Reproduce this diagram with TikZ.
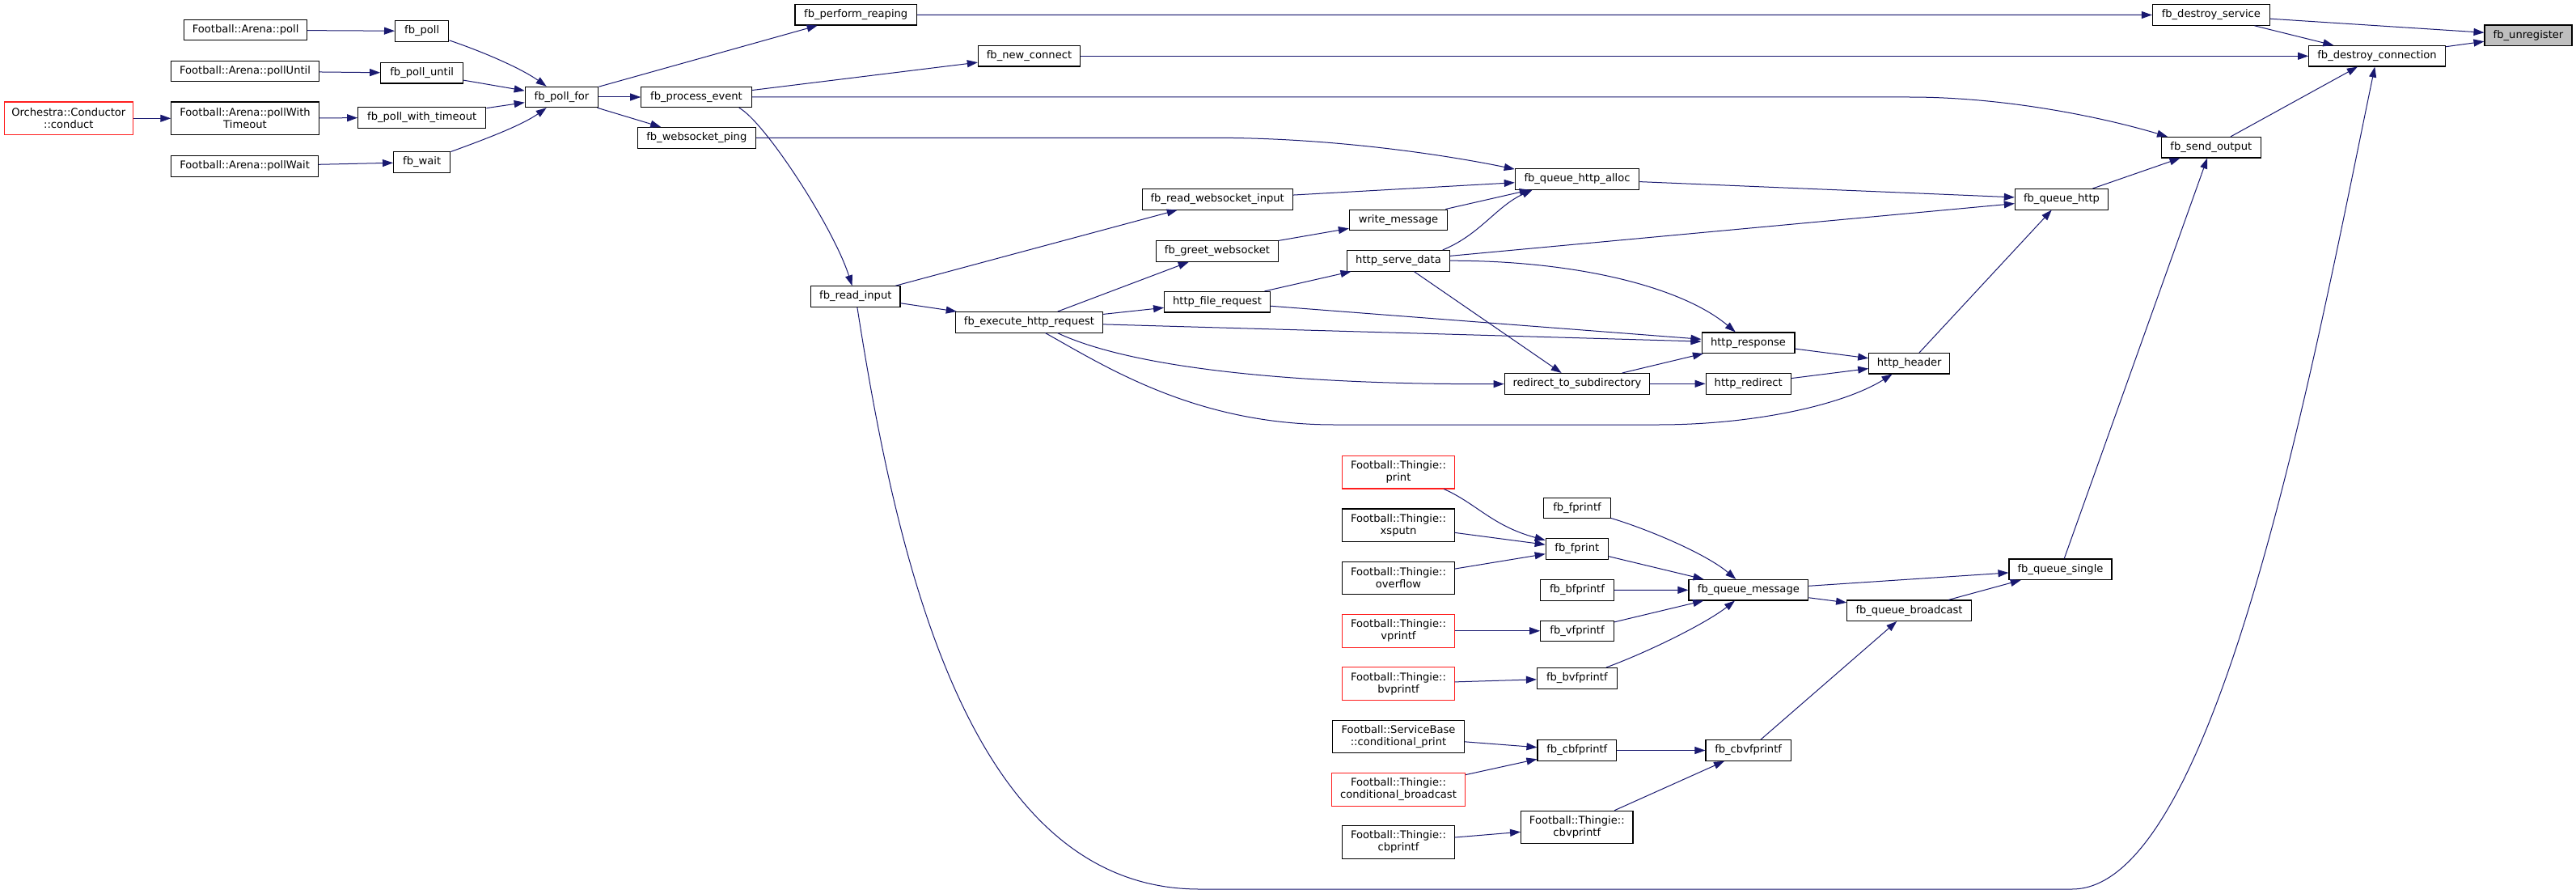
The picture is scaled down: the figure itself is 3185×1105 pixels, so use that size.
\documentclass[tikz,border=0pt]{standalone}
\usepackage{fontspec}
\setmainfont{DejaVu Sans}
\usetikzlibrary{arrows.meta}
\definecolor{edgeblue}{RGB}{25,25,112}
\definecolor{redborder}{RGB}{255,30,30}
\definecolor{unregfill}{RGB}{191,191,191}
\begin{document}
\begin{tikzpicture}[x=1pt,y=-1pt,
 box/.style={draw=black, line width=1.1pt, fill=white, inner sep=0pt, minimum height=25.5pt, font=\fontsize{13.1}{15}\selectfont, align=center},
 tall/.style={box, minimum height=40.5pt},
 redbox/.style={tall, draw=redborder},
 conn/.style={draw=edgeblue, line width=1pt, -{Triangle[length=13pt,width=9pt]}}
]
\fill[white] (0,0) rectangle (3185,1105);
\useasboundingbox (0,0) rectangle (3185,1105);

\node[box,minimum width=152pt] (apoll) at (303.6,37.2) {Football::Arena::poll};
\node[box,minimum width=66.3pt] (fbpoll) at (521.7,38.4) {fb\_poll};
\node[box,minimum width=182.4pt] (apolluntil) at (303,88) {Football::Arena::pollUntil};
\node[box,minimum width=102pt] (fbpolluntil) at (521.7,90.3) {fb\_poll\_until};
\node[redbox,minimum width=159.4pt] (orch) at (84.8,146.3) {Orchestra::Conductor\\::conduct};
\node[tall,minimum width=182.4pt] (apollwt) at (303,146.3) {Football::Arena::pollWith\\Timeout};
\node[box,minimum width=158.2pt] (fbpollwt) at (521.7,145.3) {fb\_poll\_with\_timeout};
\node[box,minimum width=181.8pt] (apollwait) at (302.6,205.3) {Football::Arena::pollWait};
\node[box,minimum width=70.2pt] (fbwait) at (521.7,200.5) {fb\_wait};
\node[box,minimum width=90.6pt] (fbpollfor) at (694.5,120) {fb\_poll\_for};
\node[box,minimum width=136.5pt] (fbprocev) at (861,120) {fb\_process\_event};
\node[box,minimum width=146pt] (fbwsping) at (861.3,170.3) {fb\_websocket\_ping};
\node[box,minimum width=150.5pt] (fbreaping) at (1058.2,18.3) {fb\_perform\_reaping};
\node[box,minimum width=126.3pt] (fbnewconn) at (1272.5,69.3) {fb\_new\_connect};
\node[box,minimum width=144.8pt] (fbdestserv) at (2733.8,18.5) {fb\_destroy\_service};
\node[box,minimum width=108pt,fill=unregfill] (fbunreg) at (3126,43.8) {fb\_unregister};
\node[box,minimum width=168.6pt] (fbdestconn) at (2939,69.3) {fb\_destroy\_connection};
\node[box,minimum width=122.5pt] (fbsendout) at (2733.8,182.2) {fb\_send\_output};
\node[box,minimum width=153.4pt] (fbqha) at (1950,221.4) {fb\_queue\_http\_alloc};
\node[box,minimum width=115.3pt] (fbqhttp) at (2549,246.3) {fb\_queue\_http};
\node[box,minimum width=186.2pt] (fbreadws) at (1505.2,246.3) {fb\_read\_websocket\_input};
\node[box,minimum width=121.2pt] (writemsg) at (1729,271.8) {write\_message};
\node[box,minimum width=151.2pt] (fbgreet) at (1505,310.5) {fb\_greet\_websocket};
\node[box,minimum width=126.2pt] (httpserve) at (1729,322.3) {http\_serve\_data};
\node[box,minimum width=110.3pt] (fbreadin) at (1057.8,366.5) {fb\_read\_input};
\node[box,minimum width=130.8pt] (httpfile) at (1505,373.2) {http\_file\_request};
\node[box,minimum width=182.3pt] (fbexec) at (1272.5,398.3) {fb\_execute\_http\_request};
\node[box,minimum width=114.9pt] (httpresp) at (2161.5,423.7) {http\_response};
\node[box,minimum width=100pt] (httphead) at (2360.7,449.2) {http\_header};
\node[box,minimum width=179.6pt] (redirsub) at (1950,474.3) {redirect\_to\_subdirectory};
\node[box,minimum width=105.1pt] (httpredir) at (2161.7,474.3) {http\_redirect};
\node[redbox,minimum width=139.4pt] (tprint) at (1729,583.7) {Football::Thingie::\\print};
\node[box,minimum width=82.3pt] (fbfprintf) at (1950,627.8) {fb\_fprintf};
\node[tall,minimum width=138.3pt] (txsputn) at (1729,649.2) {Football::Thingie::\\xsputn};
\node[box,minimum width=77.2pt] (fbfprint) at (1949.8,678.3) {fb\_fprint};
\node[tall,minimum width=138.3pt] (toverflow) at (1729,714.5) {Football::Thingie::\\overflow};
\node[box,minimum width=90.6pt] (fbbfprintf) at (1950,729.5) {fb\_bfprintf};
\node[box,minimum width=147.9pt] (fbqmsg) at (2161.9,729.2) {fb\_queue\_message};
\node[box,minimum width=127pt] (fbqsingle) at (2547.5,703.7) {fb\_queue\_single};
\node[box,minimum width=153.7pt] (fbqbcast) at (2360.5,754.7) {fb\_queue\_broadcast};
\node[redbox,minimum width=138.3pt] (tvprintf) at (1729,779.8) {Football::Thingie::\\vprintf};
\node[box,minimum width=90.6pt] (fbvfprintf) at (1950,779.8) {fb\_vfprintf};
\node[redbox,minimum width=138.3pt] (tbvprintf) at (1729,845) {Football::Thingie::\\bvprintf};
\node[box,minimum width=98.8pt] (fbbvfprintf) at (1949.8,838.3) {fb\_bvfprintf};
\node[tall,minimum width=162.7pt] (tservbase) at (1729,910.5) {Football::ServiceBase\\::conditional\_print};
\node[box,minimum width=97.6pt] (fbcbfprintf) at (1949.8,927.5) {fb\_cbfprintf};
\node[box,minimum width=105.2pt] (fbcbvfprintf) at (2161.6,927.5) {fb\_cbvfprintf};
\node[redbox,minimum width=165.1pt] (tcondbc) at (1729,975.8) {Football::Thingie::\\conditional\_broadcast};
\node[tall,minimum width=138.4pt] (tcbvprintf) at (1949.8,1022.5) {Football::Thingie::\\cbvprintf};
\node[tall,minimum width=138.3pt] (tcbprintf) at (1729,1040.8) {Football::Thingie::\\cbprintf};

% left part
\draw[conn] (apoll) -- (fbpoll);
\draw[conn] (apolluntil) -- (fbpolluntil);
\draw[conn] (orch) -- (apollwt);
\draw[conn] (apollwt) -- (fbpollwt);
\draw[conn] (apollwait) -- (fbwait);
\draw[conn] (fbpoll) .. controls (600,65) and (645,85) .. (fbpollfor);
\draw[conn] (fbpolluntil) -- (fbpollfor);
\draw[conn] (fbpollwt) -- (fbpollfor);
\draw[conn] (fbwait) .. controls (600,172) and (645,155) .. (fbpollfor);
\draw[conn] (fbpollfor) -- (fbreaping);
\draw[conn] (fbpollfor) -- (fbprocev);
\draw[conn] (fbpollfor) -- (fbwsping);
% top
\draw[conn] (fbreaping) -- (fbdestserv);
\draw[conn] (fbdestserv) -- (fbunreg);
\draw[conn] (fbdestserv) -- (fbdestconn);
\draw[conn] (fbdestconn) -- (fbunreg);
\draw[conn] (fbprocev) -- (fbnewconn);
\draw[conn] (fbnewconn) -- (fbdestconn);
\draw[conn] (fbprocev) -- (2361,120) .. controls (2480,120) and (2600,145) .. ([xshift=8pt]fbsendout.north west);
\draw[conn] ([xshift=-16pt]fbprocev.south east) .. controls (945,150) and (1030,280) .. (fbreadin);
\draw[conn] (fbwsping) -- (1500,170.3) .. controls (1650,170.3) and (1790,192) .. ([yshift=-1pt]fbqha.north west);
% middle
\draw[conn] (fbreadin) -- (fbreadws);
\draw[conn] (fbreadin) -- (fbexec);
\draw[conn] (fbreadin) .. controls (1110,700) and (1200,1099) .. (1483,1099) -- (2562,1099) .. controls (2740,1099) and (2860,450) .. (fbdestconn);
\draw[conn] (fbreadws) -- (fbqha);
\draw[conn] (writemsg) -- (fbqha);
\draw[conn] ([xshift=-9pt]httpserve.north east) .. controls (1830,290) and (1850,255) .. ([xshift=22pt]fbqha.south west);
\draw[conn] (fbqha) -- (fbqhttp);
\draw[conn] (fbqhttp) -- (fbsendout);
\draw[conn] (fbsendout) -- (fbdestconn);
\draw[conn] (fbexec) -- (fbgreet);
\draw[conn] (fbgreet) -- (writemsg);
\draw[conn] (fbexec) -- (httpfile);
\draw[conn] (httpfile) -- (httpserve);
\draw[conn] (httpserve) -- (fbqhttp);
\draw[conn] (httpserve) .. controls (1950,322) and (2080,355) .. (httpresp);
\draw[conn] (httpserve) -- (redirsub);
\draw[conn] (httpfile) -- (httpresp);
\draw[conn] (fbexec) -- (httpresp);
\draw[conn] ([xshift=35pt]fbexec.south) .. controls (1400,455) and (1600,475.5) .. (redirsub);
\draw[conn] ([xshift=20pt]fbexec.south) .. controls (1370,455) and (1480,525) .. (1650,525) -- (2050,525) .. controls (2170,525) and (2280,500) .. (httphead);
\draw[conn] (redirsub) -- (httpresp);
\draw[conn] (redirsub) -- (httpredir);
\draw[conn] (httpresp) -- (httphead);
\draw[conn] (httpredir) -- (httphead);
\draw[conn] (httphead) -- (fbqhttp);
% lower part
\draw[conn] (fbqsingle) -- (fbsendout);
\draw[conn] (fbqmsg) -- (fbqsingle);
\draw[conn] (fbqmsg) -- (fbqbcast);
\draw[conn] (fbqbcast) -- (fbqsingle);
\draw[conn] (fbfprintf) .. controls (2040,655) and (2110,685) .. (fbqmsg);
\draw[conn] (fbfprint) -- (fbqmsg);
\draw[conn] (fbbfprintf) -- (fbqmsg);
\draw[conn] (fbvfprintf) -- (fbqmsg);
\draw[conn] (fbbvfprintf) .. controls (2040,805) and (2110,770) .. (fbqmsg);
\draw[conn] ([xshift=-14pt]tprint.south east) .. controls (1825,622) and (1845,650) .. (fbfprint);
\draw[conn] (txsputn) -- (fbfprint);
\draw[conn] (toverflow) -- (fbfprint);
\draw[conn] (tvprintf) -- (fbvfprintf);
\draw[conn] (tbvprintf) -- (fbbvfprintf);
\draw[conn] (tservbase) -- (fbcbfprintf);
\draw[conn] (tcondbc) -- (fbcbfprintf);
\draw[conn] (fbcbfprintf) -- (fbcbvfprintf);
\draw[conn] (tcbvprintf) -- (fbcbvfprintf);
\draw[conn] (tcbprintf) -- (tcbvprintf);
\draw[conn] (fbcbvfprintf) -- (fbqbcast);
\end{tikzpicture}
\end{document}
